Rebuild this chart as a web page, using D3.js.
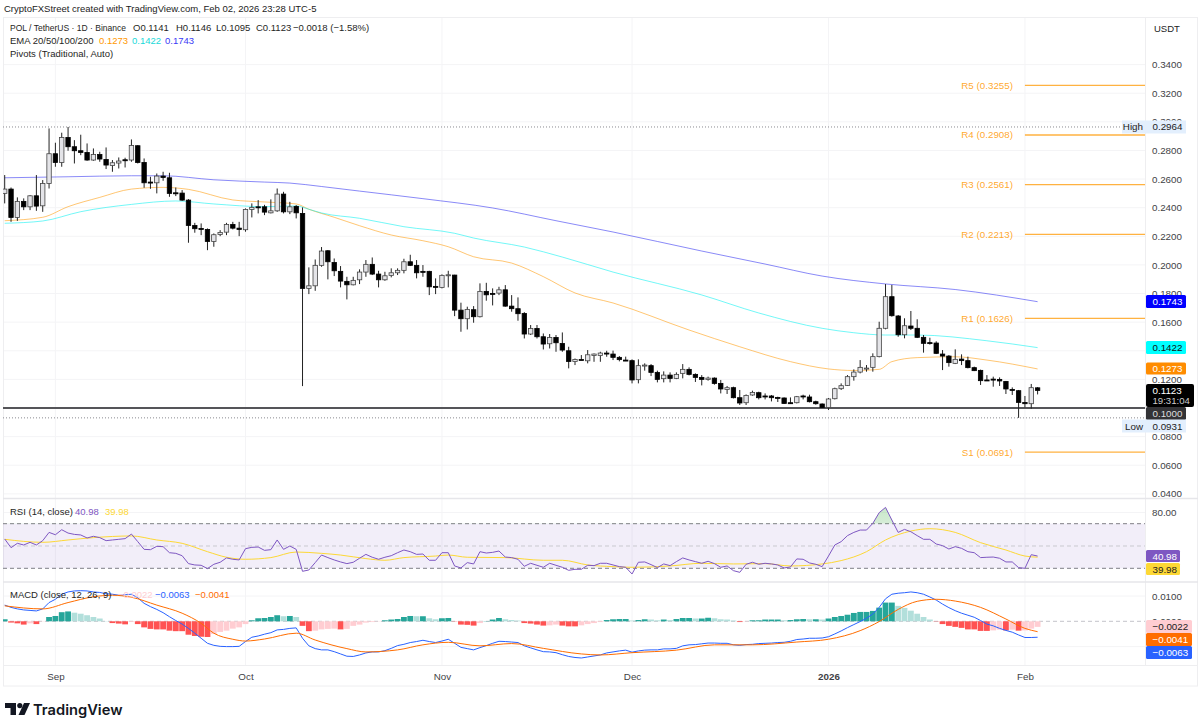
<!DOCTYPE html>
<html>
<head>
<meta charset="utf-8">
<script src="https://cdnjs.cloudflare.com/ajax/libs/d3/7.8.5/d3.min.js"></script>
<style>
  html, body { margin: 0; padding: 0; background: #fff; overflow: hidden; }
  text { font-family: "Liberation Sans", Arial, sans-serif; }
</style>
</head>
<body>
<div id="chart"></div>
<script>
// Daily candles, index 0 = Aug 24 2025, index 163 = Feb 3 2026
const opens = [
  .2500,.2530,.2332,.2444,.2406,.2483,.2413,.2569,.2777,.2716,.2891,.2826,.2798,.2786,.2733,.2772,.2737,.2695,.2712,.2735,
  .2733,.2833,.2716,.2579,.2574,.2621,.2609,.2504,.2502,.2453,.2276,.2255,.2248,.2164,.2213,.2229,.2283,.2257,.2246,.2388,
  .2406,.2406,.2364,.2378,.2495,.2371,.2409,.2360,.1836,.1854,.1997,.2099,.2017,.1955,.1885,.1861,.1896,.1950,.2004,.1936,
  .1896,.1927,.1945,.1962,.2022,.1997,.1955,.1955,.1850,.1843,.1927,.1929,.1684,.1624,.1687,.1638,.1815,.1801,.1803,.1826,
  .1712,.1694,.1661,.1517,.1556,.1498,.1449,.1493,.1451,.1400,.1325,.1339,.1330,.1367,.1367,.1384,.1377,.1354,.1335,.1331,
  .1198,.1298,.1296,.1249,.1205,.1230,.1207,.1242,.1270,.1235,.1214,.1200,.1209,.1172,.1130,.1142,.1072,.1037,.1091,.1107,
  .1084,.1084,.1074,.1070,.1037,.1037,.1084,.1077,.1044,.1028,.1004,.1065,.1135,.1158,.1219,.1251,.1275,.1284,.1359,.1557,
  .1778,.1643,.1512,.1573,.1557,.1494,.1457,.1454,.1377,.1363,.1312,.1342,.1331,.1282,.1263,.1196,.1202,.1200,.1186,.1130,
  .1121,.1039,.1030,.1141];
const highs = [
  .2628,.2541,.2472,.2465,.2488,.2628,.2593,.2954,.2854,.2924,.2964,.2872,.2910,.2849,.2814,.2791,.2821,.2733,.2751,.2749,
  .2877,.2837,.2744,.2616,.2639,.2651,.2644,.2541,.2523,.2460,.2294,.2290,.2255,.2220,.2243,.2294,.2301,.2301,.2395,.2430,
  .2453,.2420,.2458,.2534,.2511,.2441,.2418,.2402,.1983,.2038,.2125,.2104,.2045,.1992,.1917,.1917,.1969,.2034,.2052,.1959,
  .1952,.1976,.1976,.2043,.2071,.2034,.1999,.1959,.1906,.1934,.1959,.1931,.1736,.1708,.1712,.1871,.1875,.1836,.1847,.1859,
  .1789,.1773,.1670,.1580,.1580,.1521,.1517,.1510,.1528,.1428,.1346,.1370,.1405,.1381,.1393,.1400,.1401,.1363,.1359,.1340,
  .1340,.1312,.1307,.1261,.1256,.1249,.1249,.1307,.1284,.1242,.1230,.1219,.1214,.1196,.1154,.1149,.1126,.1095,.1121,.1114,
  .1102,.1091,.1079,.1074,.1074,.1084,.1093,.1093,.1051,.1032,.1070,.1142,.1172,.1230,.1270,.1335,.1300,.1382,.1603,.1866,
  .1860,.1650,.1627,.1678,.1620,.1510,.1491,.1466,.1405,.1370,.1410,.1375,.1359,.1289,.1268,.1230,.1219,.1214,.1189,.1144,
  .1126,.1084,.1168,.1146];
const lows = [
  .2430,.2301,.2308,.2383,.2383,.2378,.2371,.2534,.2686,.2686,.2798,.2709,.2767,.2728,.2728,.2721,.2670,.2651,.2674,.2681,
  .2721,.2709,.2539,.2532,.2500,.2588,.2476,.2481,.2448,.2155,.2225,.2208,.2103,.2127,.2201,.2208,.2248,.2201,.2232,.2332,
  .2360,.2348,.2360,.2371,.2360,.2355,.2325,.1153,.1796,.1819,.1987,.1899,.1922,.1843,.1759,.1857,.1866,.1917,.1929,.1843,
  .1889,.1913,.1929,.1941,.1992,.1906,.1917,.1789,.1796,.1836,.1843,.1642,.1533,.1549,.1596,.1633,.1750,.1717,.1789,.1708,
  .1673,.1610,.1486,.1510,.1486,.1409,.1416,.1393,.1393,.1277,.1300,.1335,.1312,.1323,.1323,.1358,.1335,.1326,.1328,.1172,
  .1172,.1261,.1223,.1179,.1179,.1179,.1202,.1207,.1228,.1182,.1158,.1191,.1163,.1102,.1098,.1067,.1021,.1021,.1086,.1060,
  .1060,.1046,.1042,.1028,.1028,.1032,.1060,.1039,.1023,.1000,.0986,.1060,.1126,.1154,.1191,.1242,.1254,.1254,.1354,.1550,
  .1638,.1498,.1487,.1545,.1489,.1387,.1443,.1377,.1265,.1289,.1307,.1300,.1277,.1258,.1161,.1189,.1149,.1154,.1098,.1091,
  .0931,.1004,.0995,.1095];
const closes = [
  .2530,.2332,.2444,.2406,.2483,.2411,.2569,.2777,.2716,.2891,.2826,.2798,.2786,.2733,.2772,.2740,.2698,.2714,.2726,.2730,
  .2835,.2716,.2574,.2574,.2621,.2611,.2500,.2500,.2453,.2276,.2253,.2253,.2164,.2211,.2227,.2283,.2257,.2248,.2388,.2402,
  .2404,.2369,.2378,.2495,.2371,.2406,.2364,.1836,.1854,.1997,.2097,.2022,.1959,.1887,.1861,.1892,.1950,.2004,.1936,.1896,
  .1924,.1945,.1962,.2022,.1997,.1945,.1950,.1847,.1843,.1927,.1931,.1684,.1624,.1689,.1638,.1815,.1791,.1796,.1826,.1712,
  .1694,.1659,.1517,.1556,.1498,.1447,.1493,.1456,.1405,.1325,.1339,.1337,.1372,.1377,.1384,.1379,.1354,.1338,.1331,.1196,
  .1296,.1300,.1249,.1200,.1230,.1207,.1235,.1270,.1235,.1214,.1200,.1209,.1172,.1133,.1142,.1072,.1035,.1088,.1109,.1072,
  .1079,.1072,.1072,.1032,.1032,.1079,.1079,.1044,.1030,.1004,.1063,.1135,.1156,.1219,.1251,.1284,.1279,.1359,.1557,.1778,
  .1645,.1512,.1575,.1557,.1494,.1452,.1452,.1382,.1363,.1317,.1340,.1331,.1282,.1261,.1191,.1191,.1198,.1189,.1133,.1123,
  .1039,.1030,.1142,.1123];

// EMA lines read at sampled bars
const ema1Idx = [0,6,10,15,20,25,29,36,41,46,48,52,56,61,66,70,74,80,85,90,96,108,116,124,130,134,138,140,144,150,155,163];
const ema1Val = [.2309,.2333,.2407,.2472,.2530,.2542,.2528,.2454,.2440,.2426,.2389,.2333,.2274,.2209,.2169,.2127,.2057,.2013,.1918,.1804,.1734,.1545,.1428,.1324,.1273,.1262,.1270,.1324,.1352,.1358,.1335,.1273];
const ema2Idx = [0,6,12,20,27,33,41,46,48,50,56,63,71,74,82,88,96,110,119,129,134,139,144,155,163];
const ema2Val = [.2291,.2307,.2372,.2423,.2447,.2426,.2407,.2412,.2389,.2363,.2326,.2267,.2221,.2188,.2125,.2055,.1950,.1790,.1664,.1557,.1526,.1510,.1510,.1470,.1422];
const ema3Idx = [0,10,20,25,33,41,45,50,56,66,77,87,96,110,120,129,139,150,163];
const ema3Val = [.2609,.2616,.2623,.2623,.2595,.2579,.2572,.2548,.2516,.2463,.2398,.2309,.2230,.2097,.2006,.1922,.1867,.1828,.1743];

const pivotNames = ["R5","R4","R3","R2","R1","S1"];
const pivotVals = [.3255,.2908,.2561,.2213,.1626,.0691];

const rsi = [
  56.3,48.5,52.4,50.9,53.3,50.9,54.8,62.2,60.1,64.6,61.6,60.4,59.9,57.2,58.7,57.5,54.8,55.4,56.0,56.6,
  60.7,53.9,47.0,46.7,49.7,49.4,44.0,43.4,41.3,34.2,33.0,32.7,29.7,33.6,35.4,39.3,38.1,37.5,47.6,48.8,
  49.1,46.1,46.7,55.4,47.0,50.0,47.0,27.3,28.5,35.1,41.9,39.6,37.5,35.7,34.2,35.4,39.0,42.5,39.9,38.1,
  39.9,41.3,44.0,46.4,44.9,42.5,42.8,37.2,37.2,44.0,44.0,32.1,30.3,35.1,33.9,44.9,43.7,44.3,45.5,40.1,
  39.6,38.1,31.8,34.5,32.7,30.9,34.5,32.7,30.9,28.2,29.1,29.1,32.7,32.4,34.5,34.5,33.0,31.5,30.9,24.9,
  35.4,35.7,33.3,30.6,33.9,32.4,36.0,39.3,37.5,36.0,34.5,36.3,34.2,30.9,32.1,27.9,26.4,33.6,35.4,33.6,
  34.5,33.9,33.0,30.3,31.2,38.4,38.1,34.8,33.6,31.5,41.0,50.9,53.9,59.3,62.2,64.3,64.3,70.3,79.9,84.6,
  73.3,62.2,64.9,62.8,59.3,56.0,56.0,51.8,50.3,47.3,49.4,47.9,44.9,44.0,39.6,39.9,40.1,39.0,35.7,35.7,
  30.6,30.0,42.2,40.98];
const rsiMaIdx = [0,6,10,14,20,24,28,32,35,38,42,46,50,53,57,60,63,68,70,73,79,85,88,92,96,99,105,110,115,120,124,129,132,136,139,143,146,150,154,158,161,163];
const rsiMaVal = [56.0,53.3,55.4,57.5,59.0,55.4,52.4,44.9,39.9,38.1,39.6,44.6,43.4,41.9,38.7,37.2,39.6,41.0,41.9,39.9,39.6,37.2,37.2,33.0,31.5,30.9,32.1,34.5,33.9,34.2,32.1,33.9,36.9,44.9,55.4,63.4,65.5,62.2,53.0,46.4,41.0,39.98];

const macd = [
  .0064,.0055,.0049,.0045,.0043,.0041,.0049,.0074,.0087,.0107,.0116,.0120,.0121,.0120,.0116,.0114,.0109,.0107,.0103,.0105,
  .0107,.0093,.0071,.0058,.0047,.0034,.0018,.0003,-.0011,-.0028,-.0047,-.0067,-.0087,-.0095,-.0099,-.0100,-.0100,-.0099,-.0080,-.0063,
  -.0058,-.0051,-.0045,-.0034,-.0032,-.0028,-.0026,-.0067,-.0097,-.0108,-.0113,-.0113,-.0120,-.0129,-.0138,-.0139,-.0133,-.0125,-.0121,-.0121,
  -.0116,-.0107,-.0096,-.0091,-.0084,-.0080,-.0075,-.0080,-.0084,-.0078,-.0071,-.0087,-.0103,-.0108,-.0113,-.0104,-.0096,-.0087,-.0079,-.0080,
  -.0082,-.0084,-.0097,-.0105,-.0113,-.0120,-.0121,-.0124,-.0132,-.0139,-.0143,-.0145,-.0141,-.0137,-.0133,-.0125,-.0121,-.0117,-.0114,-.0122,
  -.0117,-.0114,-.0113,-.0113,-.0109,-.0109,-.0107,-.0097,-.0093,-.0092,-.0089,-.0086,-.0086,-.0087,-.0087,-.0093,-.0095,-.0092,-.0091,-.0088,
  -.0087,-.0086,-.0084,-.0083,-.0079,-.0072,-.0070,-.0067,-.0067,-.0066,-.0061,-.0050,-.0038,-.0025,-.0013,-.0001,.0012,.0029,.0055,.0089,
  .0107,.0111,.0113,.0116,.0113,.0107,.0096,.0084,.0068,.0054,.0042,.0032,.0024,.0016,.0003,-.0011,-.0018,-.0028,-.0036,-.0043,
  -.0054,-.0064,-.0064,-.0063];
const signalIdx = [0,6,10,14,17,20,24,28,31,33,36,38,41,46,49,54,57,62,66,70,75,80,85,91,94,99,106,112,118,125,130,135,138,141,144,147,150,154,158,161,163];
const signalVal = [.0061,.0049,.0074,.0097,.0103,.0095,.0064,.0032,-.0008,-.0047,-.0071,-.0078,-.0070,-.0047,-.0074,-.0108,-.0121,-.0113,-.0093,-.0083,-.0097,-.0088,-.0107,-.0129,-.0133,-.0124,-.0114,-.0093,-.0093,-.0082,-.0071,-.0037,-.0001,.0047,.0079,.0087,.0080,.0055,.0009,-.0028,-.0041];
const histogram = [
  .0008,-.0005,-.0008,-.0013,-.0008,-.0011,-.0001,.0017,.0021,.0036,.0039,.0034,.0030,.0024,.0017,.0011,.0001,-.0007,-.0009,-.0012,
  -.0003,-.0011,-.0024,-.0030,-.0032,-.0032,-.0037,-.0039,-.0039,-.0053,-.0058,-.0061,-.0062,-.0050,-.0042,-.0037,-.0029,-.0024,-.0011,.0004,
  .0012,.0013,.0017,.0024,.0020,.0021,.0017,-.0018,-.0039,-.0037,-.0032,-.0030,-.0029,-.0032,-.0030,-.0018,-.0013,-.0005,-.0003,-.0001,
  .0004,.0007,.0009,.0017,.0021,.0020,.0020,.0012,.0008,.0012,.0013,-.0001,-.0013,-.0014,-.0017,-.0007,.0001,.0007,.0013,.0008,
  .0005,.0003,-.0007,-.0009,-.0013,-.0017,-.0016,-.0013,-.0017,-.0020,-.0020,-.0016,-.0011,-.0007,-.0003,.0005,.0008,.0009,.0009,.0003,
  .0005,.0008,.0007,.0004,.0007,.0005,.0009,.0013,.0013,.0011,.0011,.0014,.0012,.0008,.0007,.0003,-.0003,-.0001,.0004,.0004,
  .0007,.0007,.0007,.0004,.0005,.0008,.0009,.0008,.0008,.0007,.0011,.0017,.0021,.0026,.0033,.0037,.0037,.0041,.0054,.0074,
  .0074,.0061,.0053,.0042,.0030,.0017,.0007,-.0001,-.0011,-.0018,-.0022,-.0026,-.0032,-.0032,-.0038,-.0038,-.0036,-.0033,-.0036,-.0033,
  -.0037,-.0036,-.0029,-.0022];

const priceTicks = [.34,.32,.30,.28,.26,.24,.22,.20,.18,.16,.12,.08,.06,.04];
const priceGrid = [.34,.32,.30,.28,.26,.24,.22,.20,.18,.16,.14,.12,.10,.08,.06,.04];
const monthIdx = [8,38,69,99,130,161];
const monthLabels = ["Sep","Oct","Nov","Dec","2026","Feb"];

const width = 1202, height = 727;
const paneRight = 1145;
const fontSize = 9.8;
const legendSize = 9.5;

const svg = d3.select('#chart').append('svg')
  .attr('width', width).attr('height', height)
  .style('display', 'block');

const x = d3.scaleLinear().domain([0, 163]).range([4.7, 1037.6]);
const yPrice = d3.scaleLinear().domain([.1, .34]).range([408, 64.6]);
const yRsi = d3.scaleLinear().domain([30, 70]).range([568.3, 523.7]);
const yMacd = d3.scaleLinear().domain([-.01, .01]).range([646.6, 596]);

const defs = svg.append('defs');
const addClip = (id, x0, y0, w, h) => defs.append('clipPath').attr('id', id)
  .append('rect').attr('x', x0).attr('y', y0).attr('width', w).attr('height', h);
addClip('clip-price', 3, 17, paneRight - 3, 481);
addClip('clip-rsi', 3, 499, paneRight - 3, 83);
addClip('clip-macd', 3, 583, paneRight - 3, 82);
addClip('clip-over', 3, 499, paneRight - 3, yRsi(70) - 499);

const overGrad = defs.append('linearGradient').attr('id', 'over-grad')
  .attr('x1', 0).attr('x2', 0).attr('y1', 0).attr('y2', 1);
overGrad.append('stop').attr('offset', '0%').attr('stop-color', '#4caf50').attr('stop-opacity', .3);
overGrad.append('stop').attr('offset', '100%').attr('stop-color', '#4caf50').attr('stop-opacity', .02);

// Grid
const grid = svg.append('g').attr('stroke', '#f4f4f6').attr('stroke-width', 1);
grid.selectAll('.gy').data(priceGrid).join('line')
  .attr('x1', 3).attr('x2', paneRight).attr('y1', d => yPrice(d)).attr('y2', d => yPrice(d));
grid.selectAll('.gr').data([80]).join('line')
  .attr('x1', 3).attr('x2', paneRight).attr('y1', d => yRsi(d)).attr('y2', d => yRsi(d));
grid.selectAll('.gm').data([.01, -.01]).join('line')
  .attr('x1', 3).attr('x2', paneRight).attr('y1', d => yMacd(d)).attr('y2', d => yMacd(d));
grid.selectAll('.gx').data(monthIdx).join('line')
  .attr('x1', d => x(d)).attr('x2', d => x(d)).attr('y1', 17).attr('y2', 665);

// Frame and pane separators
const frame = svg.append('g').attr('stroke', '#eeeef0').attr('fill', 'none');
frame.append('rect').attr('x', 3.5).attr('y', 17.5).attr('width', 1194).attr('height', 668.5);
frame.append('line').attr('x1', paneRight + .5).attr('x2', paneRight + .5).attr('y1', 17).attr('y2', 665);
frame.append('line').attr('x1', 3).attr('x2', 1198).attr('y1', 665.5).attr('y2', 665.5);
[498.5, 582].forEach(y => frame.append('line').attr('x1', 3).attr('x2', 1198).attr('y1', y).attr('y2', y)
  .attr('stroke', '#e6e6ea').attr('stroke-width', 1.5));

// Price pane
const price = svg.append('g').attr('clip-path', 'url(#clip-price)');

price.selectAll('.extreme').data([.2964, .0931]).join('line')
  .attr('x1', 3).attr('x2', paneRight)
  .attr('y1', d => yPrice(d)).attr('y2', d => yPrice(d))
  .attr('stroke', '#8a8a90').attr('stroke-dasharray', '1 2');

price.append('line')
  .attr('x1', 3).attr('x2', paneRight)
  .attr('y1', yPrice(.1)).attr('y2', yPrice(.1))
  .attr('stroke', '#555559').attr('stroke-width', 1.8);

price.selectAll('.pivot').data(pivotVals).join('line')
  .attr('x1', x(161)).attr('x2', paneRight)
  .attr('y1', d => yPrice(d)).attr('y2', d => yPrice(d))
  .attr('stroke', '#ff9800').attr('stroke-opacity', .75).attr('stroke-width', 1.3);

price.selectAll('.pivot-label').data(pivotVals).join('text')
  .attr('x', 1013).attr('y', d => yPrice(d) + 3.5)
  .attr('text-anchor', 'end').attr('font-size', fontSize).attr('fill', '#ff9800').attr('fill-opacity', .85)
  .text((d, i) => `${pivotNames[i]} (${d.toFixed(4)})`);

const emaLine = (idx, vals, color, op) => {
  const line = d3.line().x(d => x(d)).y((d, i) => yPrice(vals[i])).curve(d3.curveMonotoneX);
  price.append('path').attr('d', line(idx)).attr('fill', 'none')
    .attr('stroke', color).attr('stroke-opacity', op).attr('stroke-width', 1);
};
emaLine(ema1Idx, ema1Val, '#ff9800', .55);
emaLine(ema2Idx, ema2Val, '#00f0f0', .55);
emaLine(ema3Idx, ema3Val, '#2a2af0', .55);

const candles = price.append('g').selectAll('g').data(d3.range(opens.length)).join('g');
candles.append('line')
  .attr('x1', i => x(i)).attr('x2', i => x(i))
  .attr('y1', i => yPrice(highs[i])).attr('y2', i => yPrice(lows[i]))
  .attr('stroke', '#222').attr('stroke-width', 1);
candles.append('rect')
  .attr('x', i => x(i) - 2.2).attr('width', 4.4)
  .attr('y', i => yPrice(Math.max(opens[i], closes[i])))
  .attr('height', i => Math.max(1, Math.abs(yPrice(opens[i]) - yPrice(closes[i]))))
  .attr('fill', i => closes[i] >= opens[i] ? '#e4e4e8' : '#000')
  .attr('stroke', i => closes[i] >= opens[i] ? '#444' : '#000')
  .attr('stroke-width', .8);

// RSI pane
const rsiG = svg.append('g').attr('clip-path', 'url(#clip-rsi)');
rsiG.append('rect').attr('x', 3).attr('width', paneRight - 3)
  .attr('y', yRsi(70)).attr('height', yRsi(30) - yRsi(70))
  .attr('fill', '#7e57c2').attr('fill-opacity', .1);
rsiG.selectAll('.band').data([70, 50, 30]).join('line')
  .attr('x1', 3).attr('x2', paneRight)
  .attr('y1', d => yRsi(d)).attr('y2', d => yRsi(d))
  .attr('stroke', d => d === 50 ? '#c9c9cf' : '#7f7f86')
  .attr('stroke-dasharray', '4 3');

const rsiArea = d3.area().x((d, i) => x(i)).y0(yRsi(70)).y1(d => yRsi(d));
rsiG.append('g').attr('clip-path', 'url(#clip-over)').append('path')
  .attr('d', rsiArea(rsi)).attr('fill', 'url(#over-grad)');

rsiG.append('path')
  .attr('d', d3.line().x(d => x(d)).y((d, i) => yRsi(rsiMaVal[i])).curve(d3.curveMonotoneX)(rsiMaIdx))
  .attr('fill', 'none').attr('stroke', '#fdd835').attr('stroke-width', 1);
rsiG.append('path')
  .attr('d', d3.line().x((d, i) => x(i)).y(d => yRsi(d))(rsi))
  .attr('fill', 'none').attr('stroke', '#7e57c2').attr('stroke-width', 1);

// MACD pane
const macdG = svg.append('g').attr('clip-path', 'url(#clip-macd)');
macdG.append('line').attr('x1', 3).attr('x2', paneRight)
  .attr('y1', yMacd(0)).attr('y2', yMacd(0))
  .attr('stroke', '#c4c4ca').attr('stroke-dasharray', '4 3');

const histColor = (d, i) => {
  const prev = i > 0 ? histogram[i - 1] : d;
  if (d >= 0) return d >= prev ? '#26a69a' : '#b2dfdb';
  return d <= prev ? '#ff5252' : '#ffcdd2';
};
macdG.selectAll('.hist').data(histogram).join('rect')
  .attr('x', (d, i) => x(i) - 2.9).attr('width', 5.8)
  .attr('y', d => Math.min(yMacd(d), yMacd(0)))
  .attr('height', d => Math.abs(yMacd(d) - yMacd(0)))
  .attr('fill', histColor);

macdG.append('path')
  .attr('d', d3.line().x((d, i) => x(i)).y(d => yMacd(d))(macd))
  .attr('fill', 'none').attr('stroke', '#2962ff').attr('stroke-width', 1);
macdG.append('path')
  .attr('d', d3.line().x(d => x(d)).y((d, i) => yMacd(signalVal[i])).curve(d3.curveMonotoneX)(signalIdx))
  .attr('fill', 'none').attr('stroke', '#ff6d00').attr('stroke-width', 1);

// Axes
const axisText = '#3f3f46';
const styleAxis = g => {
  g.select('.domain').remove();
  g.selectAll('text').attr('font-size', fontSize).attr('fill', axisText)
    .style('font-family', '"Liberation Sans", Arial, sans-serif');
};
svg.append('g').attr('transform', `translate(${paneRight},0)`)
  .call(d3.axisRight(yPrice).tickValues(priceTicks).tickSize(0).tickPadding(7).tickFormat(d3.format('.4f')))
  .call(styleAxis);
svg.append('g').attr('transform', `translate(${paneRight},0)`)
  .call(d3.axisRight(yRsi).tickValues([80]).tickSize(0).tickPadding(7).tickFormat(d3.format('.2f')))
  .call(styleAxis);
svg.append('g').attr('transform', `translate(${paneRight},0)`)
  .call(d3.axisRight(yMacd).tickValues([.01, 0]).tickSize(0).tickPadding(7).tickFormat(d3.format('.4f')))
  .call(styleAxis);

const timeAxis = svg.append('g').attr('transform', 'translate(0,666)')
  .call(d3.axisBottom(x).tickValues(monthIdx).tickSize(0).tickPadding(7)
    .tickFormat((d, i) => monthLabels[i]))
  .call(styleAxis);
timeAxis.selectAll('text')
  .attr('font-weight', (d, i) => monthLabels[i] === '2026' ? 700 : 400);

// Price tags on the scale
const tag = (x0, y0, w, h, bg, fg, label) => {
  svg.append('rect').attr('x', x0).attr('y', y0).attr('width', w).attr('height', h).attr('rx', 1.5).attr('fill', bg);
  svg.append('text').attr('x', x0 + 6.5).attr('y', y0 + h / 2 + 3.5)
    .attr('font-size', fontSize).attr('fill', fg).text(label);
};
tag(1146, 295, 40, 13, '#0000ff', '#fff', '0.1743');
tag(1146, 341, 40, 13, '#00ffff', '#111', '0.1422');
tag(1146, 362.5, 40, 12, '#ff8c00', '#fff', '0.1273');
tag(1146, 407, 40, 13, '#333336', '#ddd', '0.1000');

svg.append('rect').attr('x', 1146).attr('y', 384).attr('width', 48).attr('height', 23).attr('rx', 2).attr('fill', '#000');
svg.append('text').attr('x', 1152.5).attr('y', 393.5).attr('font-size', fontSize).attr('fill', '#fff').text('0.1123');
svg.append('text').attr('x', 1152.5).attr('y', 404).attr('font-size', 9.6).attr('fill', '#ccc').text('19:31:04');

const extremeTag = (yc, name, label) => {
  svg.append('rect').attr('x', 1122).attr('y', yc - 6.5).attr('width', 64).attr('height', 13).attr('fill', '#e3effd');
  svg.append('text').attr('x', 1143).attr('y', yc + 3.5).attr('text-anchor', 'end')
    .attr('font-size', fontSize).attr('fill', '#222').text(name);
  svg.append('text').attr('x', 1152.5).attr('y', yc + 3.5)
    .attr('font-size', fontSize).attr('fill', '#222').text(label);
};
extremeTag(yPrice(.2964), 'High', '0.2964');
extremeTag(426, 'Low', '0.0931');

tag(1146, 550, 34, 12, '#7e57c2', '#fff', '40.98');
tag(1146, 563, 34, 12, '#fdd835', '#222', '39.98');
tag(1146, 620, 46, 13, '#ffcdd2', '#222', '\u22120.0022');
tag(1146, 633, 46, 13, '#ff6d00', '#fff', '\u22120.0041');
tag(1146, 646, 46, 13, '#2962ff', '#fff', '\u22120.0063');

// Legends
const label = (tx, ty, txt, fill) => svg.append('text').attr('x', tx).attr('y', ty)
  .attr('font-size', legendSize).attr('fill', fill || '#1f1f24').text(txt);

label(4, 12, 'CryptoFXStreet created with TradingView.com, Feb 02, 2026 23:28 UTC-5', '#222');
label(1154, 32, 'USDT', '#222');
label(10, 31, 'POL / TetherUS \u00b7 1D \u00b7 Binance').attr('textLength', 116).attr('lengthAdjust', 'spacingAndGlyphs');
label(133, 31, 'O0.1141');
label(176, 31, 'H0.1146');
label(216, 31, 'L0.1095');
label(256, 31, 'C0.1123');
label(293, 31, '\u22120.0018 (\u22121.58%)');
label(10, 44, 'EMA 20/50/100/200');
label(99, 44, '0.1273', '#ff9800');
label(132, 44, '0.1422', '#19d9d9');
label(165, 44, '0.1743', '#3a3af5');
label(10, 57, 'Pivots (Traditional, Auto)');

label(10, 515, 'RSI (14, close)');
label(75, 515, '40.98', '#7e57c2');
label(105, 515, '39.98', '#fdd835');
label(10, 598, 'MACD (close, 12, 26, 9)');
label(118, 598, '\u22120.0022', '#ffcdd2');
label(155, 598, '\u22120.0063', '#2962ff');
label(195, 598, '\u22120.0041', '#ff6d00');

// TradingView mark
const logo = svg.append('g').attr('fill', '#131722');
logo.append('path').attr('d', 'M5 703H16V715H10.5V708H5Z');
logo.append('circle').attr('cx', 19.8).attr('cy', 705.6).attr('r', 2.6);
logo.append('path').attr('d', 'M24 703H30L24.5 715H18.5Z');
svg.append('text').attr('x', 33).attr('y', 714.5).attr('font-size', 14.7).attr('font-weight', 600)
  .style('font-family', 'Inter').attr('fill', '#131722').text('TradingView');
</script>
</body>
</html>
